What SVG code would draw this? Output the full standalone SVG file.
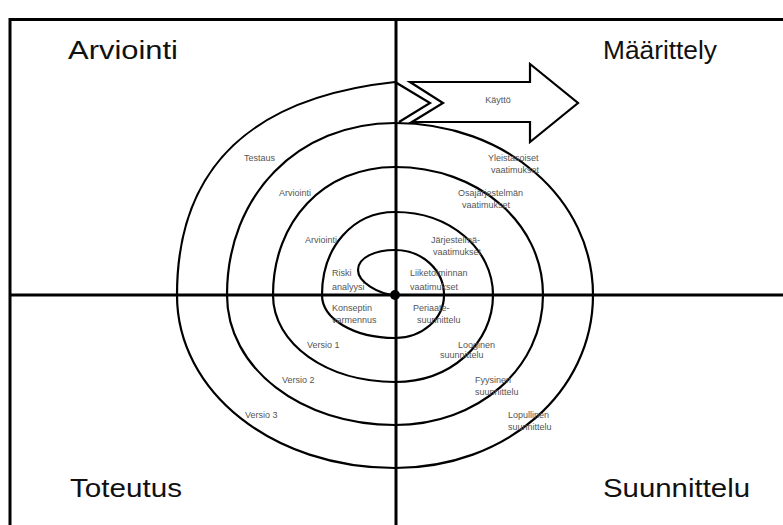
<svg xmlns="http://www.w3.org/2000/svg" width="783" height="525" viewBox="0 0 783 525">
<style>
.big{font-family:"Liberation Sans",Arial,sans-serif;font-size:26px;fill:#111}
.sm{font-family:"Liberation Sans",Arial,sans-serif;font-size:9px;fill:#555}
.ln{fill:none;stroke:#000;stroke-width:2.2}
.ax{fill:none;stroke:#000;stroke-width:3}
</style>
<rect x="0" y="0" width="783" height="525" fill="#fff"/>
<g id="frame">
<path class="ax" d="M10,525 V19.5 H783"/>
</g>
<g id="connectors">
<path class="ax" d="M396,19 V525"/>
<path class="ax" d="M10,295 H783"/>
<path id="spiral" class="ln" d="M395,295 C378,294 358,282 358,270 C358,257 376,250 395,250 C422,250 444,270 444,295 C444,319 422,338 395,338 C354,338 322,319 322,295 C322,247 353,212 395,212 C450,212 493,249 493,295 C493,344 450,382 395,382 C327,382 273,344 273,295 C273,221 324,167 395,167 C478,167 543,223 543,295 C543,368 478,425 395,425 C301,425 227,368 227,295 C227,195 298,123 395,123 C506,123 593,199 593,295 C593,392 506,468 395,468 C273,468 177,392 177,295 C177,165 255,97 395,82 L430,103 L399,122"/>
<circle cx="395" cy="295" r="5" fill="#000"/>
</g>
<g id="kaytto">
<polygon class="ln" fill="#fff" points="410,82 530,82 530,64 578,103 530,142 530,122 412,122 443,103"/>
<text class="sm" x="498" y="103" text-anchor="middle">Käyttö</text>
</g>
<g id="quadrant-labels">
<text class="big" x="68" y="59" textLength="110" lengthAdjust="spacingAndGlyphs">Arviointi</text>
<text class="big" x="603" y="59" textLength="114" lengthAdjust="spacingAndGlyphs">Määrittely</text>
<text class="big" x="70" y="497" textLength="112" lengthAdjust="spacingAndGlyphs">Toteutus</text>
<text class="big" x="603" y="497" textLength="147" lengthAdjust="spacingAndGlyphs">Suunnittelu</text>
</g>
<g id="left-labels">
<text class="sm" x="244" y="161">Testaus</text>
<text class="sm" x="279" y="196">Arviointi</text>
<text class="sm" x="305" y="243">Arviointi</text>
<text class="sm" x="332" y="276">Riski</text>
<text class="sm" x="332" y="290">analyysi</text>
<text class="sm" x="332" y="311">Konseptin</text>
<text class="sm" x="332" y="323">varmennus</text>
<text class="sm" x="307" y="348">Versio 1</text>
<text class="sm" x="282" y="383">Versio 2</text>
<text class="sm" x="245" y="418">Versio 3</text>
</g>
<g id="right-labels">
<text class="sm" x="488" y="161">Yleistasoiset</text>
<text class="sm" x="491" y="173">vaatimukset</text>
<text class="sm" x="458" y="196">Osajärjestelmän</text>
<text class="sm" x="462" y="208">vaatimukset</text>
<text class="sm" x="431" y="243">Järjestelmä-</text>
<text class="sm" x="433" y="255">vaatimukset</text>
<text class="sm" x="410" y="276">Liiketoiminnan</text>
<text class="sm" x="410" y="290">vaatimukset</text>
<text class="sm" x="413" y="311">Periaate-</text>
<text class="sm" x="417" y="323">suunnittelu</text>
<text class="sm" x="458" y="348">Looginen</text>
<text class="sm" x="440" y="358">suunnittelu</text>
<text class="sm" x="475" y="383">Fyysinen</text>
<text class="sm" x="475" y="395">suunnittelu</text>
<text class="sm" x="508" y="418">Lopullinen</text>
<text class="sm" x="508" y="430">suunnittelu</text>
</g>
</svg>
